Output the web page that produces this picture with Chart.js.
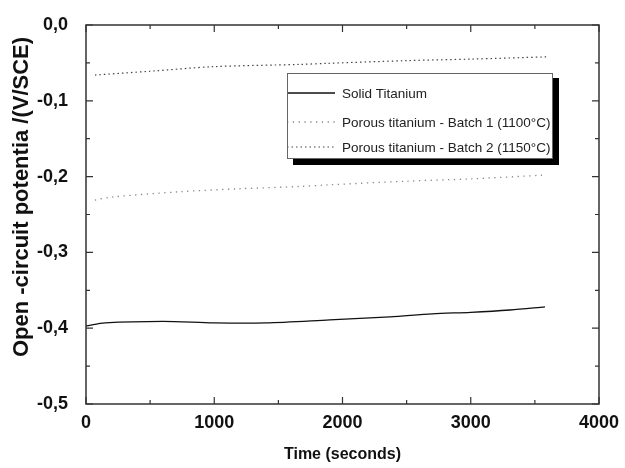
<!DOCTYPE html>
<html>
<head>
<meta charset="utf-8">
<script src="https://cdn.jsdelivr.net/npm/chart.js@4.4.1/dist/chart.umd.min.js"></script>
<style>
  html, body { margin: 0; padding: 0; background: #fff; }
  #wrap { width: 625px; height: 468px; }
</style>
</head>
<body>
<div id="wrap"><canvas id="ocp_chart" width="625" height="468"></canvas></div>
<script>
// values (time in s, potential in V/SCE)
const solidTime = [0, 150, 600, 1000, 1400, 1900, 2370, 2700, 3000, 3306, 3579];
const solidOcp = [-0.397, -0.393, -0.391, -0.393, -0.393, -0.389, -0.385, -0.381, -0.379, -0.376, -0.372];

const batch1Time = [70, 200, 730, 1200, 1670, 1880, 2500, 3000, 3570];
const batch1Ocp = [-0.231, -0.227, -0.220, -0.216, -0.213, -0.211, -0.206, -0.203, -0.198];

const batch2Time = [70, 500, 990, 1670, 1880, 2500, 3000, 3600];
const batch2Ocp = [-0.066, -0.061, -0.055, -0.052, -0.0506, -0.047, -0.045, -0.042];

const legendLabels = ['Solid Titanium', 'Porous titanium - Batch 1 (1100°C)', 'Porous titanium - Batch 2 (1150°C)'];
const xTicks = [0, 1000, 2000, 3000, 4000];
const yTicks = [0, -0.1, -0.2, -0.3, -0.4, -0.5];
const yTitle = 'Open -circuit potentia /(V/SCE)';

function toPoints(xs, ys) {
  return xs.map((x, i) => ({ x: x, y: ys[i] }));
}

const tickFont = { family: 'Liberation Sans, Arial', size: 18, weight: 'bold' };

// frame + inward ticks on all four sides, and the y title
const frameTicks = {
  id: 'frameTicks',
  afterDraw(chart) {
    const ctx = chart.ctx;
    const a = chart.chartArea;
    const xs = chart.scales.x;
    const ys = chart.scales.y;
    ctx.save();
    ctx.strokeStyle = '#333';
    ctx.lineWidth = 1.5;
    ctx.strokeRect(a.left, a.top, a.right - a.left, a.bottom - a.top);
    ctx.lineWidth = 1.2;
    for (let v = 0; v <= 4000; v += 500) {
      const px = xs.getPixelForValue(v);
      const len = v % 1000 === 0 ? 7 : 4;
      ctx.beginPath();
      ctx.moveTo(px, a.bottom); ctx.lineTo(px, a.bottom - len);
      ctx.moveTo(px, a.top); ctx.lineTo(px, a.top + len);
      ctx.stroke();
    }
    for (let k = 0; k <= 10; k++) {
      const v = -k * 0.05;
      const py = ys.getPixelForValue(v);
      const len = k % 2 === 0 ? 7 : 4;
      ctx.beginPath();
      ctx.moveTo(a.left, py); ctx.lineTo(a.left + len, py);
      ctx.moveTo(a.right, py); ctx.lineTo(a.right - len, py);
      ctx.stroke();
    }
    // y axis title
    ctx.translate(22, 197);
    ctx.rotate(-Math.PI / 2);
    ctx.font = 'bold 22px Liberation Sans, Arial';
    ctx.fillStyle = '#111';
    ctx.textAlign = 'center';
    ctx.textBaseline = 'middle';
    ctx.fillText(yTitle, 0, 0);
    ctx.restore();
  }
};

// boxed legend with black drop shadow
const boxLegend = {
  id: 'boxLegend',
  afterDraw(chart) {
    const ctx = chart.ctx;
    const bx = 287, by = 73, bw = 265, bh = 85;
    const rows = [93, 122, 147];
    ctx.save();
    ctx.fillStyle = '#fff';
    ctx.fillRect(bx, by, bw, bh);
    ctx.font = '13.5px Liberation Sans, Arial';
    ctx.textBaseline = 'middle';
    ctx.fillStyle = '#222';
    chart.data.datasets.forEach((ds, i) => {
      ctx.strokeStyle = ds.borderColor;
      ctx.lineWidth = ds.borderWidth;
      ctx.setLineDash(ds.borderDash || []);
      ctx.beginPath();
      ctx.moveTo(bx, rows[i]);
      ctx.lineTo(bx + 48, rows[i]);
      ctx.stroke();
      ctx.fillText(legendLabels[i], bx + 55, rows[i] + 1);
    });
    ctx.setLineDash([]);
    // shadow
    ctx.fillStyle = '#000';
    ctx.fillRect(bx + bw, by + 5, 7, bh + 2);
    ctx.fillRect(bx + 6, by + bh, bw, 7);
    ctx.strokeStyle = '#666';
    ctx.lineWidth = 1;
    ctx.strokeRect(bx + 0.5, by + 0.5, bw, bh);
    ctx.restore();
  }
};

const config = {
  type: 'scatter',
  data: {
    datasets: [
      {
        label: legendLabels[0],
        data: toPoints(solidTime, solidOcp),
        showLine: true,
        borderColor: '#111',
        borderWidth: 1.3,
        pointRadius: 0,
        tension: 0.3
      }, {
        label: legendLabels[1],
        data: toPoints(batch1Time, batch1Ocp),
        showLine: true,
        borderColor: '#888',
        borderWidth: 1.3,
        borderDash: [1.3, 4.5],
        pointRadius: 0,
        tension: 0.3
      }, {
        label: legendLabels[2],
        data: toPoints(batch2Time, batch2Ocp),
        showLine: true,
        borderColor: '#444',
        borderWidth: 1.2,
        borderDash: [1.5, 3],
        pointRadius: 0,
        tension: 0.3
      }
    ]
  },
  options: {
    responsive: false,
    animation: false,
    layout: { padding: { top: 25, right: 26, left: 0, bottom: 0 } },
    plugins: {
      legend: { display: false },
      tooltip: { enabled: false }
    },
    scales: {
      x: {
        type: 'linear',
        min: 0,
        max: 4000,
        afterFit(scale) { scale.height = 64; },
        afterBuildTicks(scale) { scale.ticks = xTicks.map(v => ({ value: v })); },
        grid: { display: false },
        border: { display: false },
        ticks: { color: '#111', font: tickFont, padding: 0, maxRotation: 0, callback: (v) => String(v) },
        title: {
          display: true,
          text: 'Time (seconds)',
          color: '#111',
          font: { family: 'Liberation Sans, Arial', size: 16, weight: 'bold' },
          padding: { top: 16 }
        }
      },
      y: {
        min: -0.5,
        max: 0,
        afterFit(scale) { scale.width = 86; },
        afterBuildTicks(scale) { scale.ticks = yTicks.map(v => ({ value: v })); },
        grid: { display: false },
        border: { display: false },
        ticks: {
          color: '#111',
          font: tickFont,
          padding: 10,
          callback: (v) => v.toFixed(1).replace('.', ',').replace('-0,0', '0,0')
        },
        title: { display: false }
      }
    }
  },
  plugins: [frameTicks, boxLegend]
};

var ocpChart = new Chart(document.getElementById('ocp_chart'), config);
</script>
</body>
</html>
